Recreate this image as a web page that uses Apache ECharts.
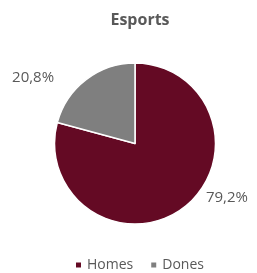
<!DOCTYPE html>
<html>
<head>
<meta charset="utf-8">
<script src="https://cdn.jsdelivr.net/npm/echarts@6/dist/echarts.min.js"></script>
<style>
  html, body { margin: 0; padding: 0; background: #fff; }
  #chart { width: 257px; height: 273px; }
</style>
</head>
<body>
<div id="chart"></div>
<script>
const categories = ['Homes', 'Dones'];
const shares = [79.2, 20.8];
const colors = ['#640a24', '#7f7f7f'];

// nudge outside labels to where the original puts them
const labelShift = [[17, -10], [-27, -2]];

const chart = echarts.init(document.getElementById('chart'));

chart.setOption({
  title: {
    text: 'Esports',
    left: 135,
    textAlign: 'center',
    top: 7,
    textStyle: { fontFamily: 'Open Sans', fontSize: 16, fontWeight: 'bold', color: '#595959' }
  },
  legend: {
    top: 258,
    left: 74,
    padding: 0,
    icon: 'rect',
    itemWidth: 7,
    itemHeight: 7,
    itemGap: 16,
    textStyle: { fontFamily: 'Open Sans', fontSize: 14, color: '#595959' },
    data: categories
  },
  series: [
    {
      type: 'pie',
      center: [135, 143.5],
      radius: 80.5,
      startAngle: 90,
      clockwise: true,
      itemStyle: { borderColor: '#fff', borderWidth: 1.5 },
      label: {
        position: 'outside',
        fontFamily: 'Open Sans',
        fontSize: 15,
        color: '#595959',
        formatter: p => p.value.toFixed(1).replace('.', ',') + '%'
      },
      labelLine: { show: false, length: 0, length2: 0 },
      labelLayout: p => ({ dx: labelShift[p.dataIndex][0], dy: labelShift[p.dataIndex][1] }),
      emphasis: { disabled: true },
      data: categories.map((name, i) => ({
        name: name,
        value: shares[i],
        itemStyle: { color: colors[i] }
      }))
    }
  ]
});
</script>
</body>
</html>
